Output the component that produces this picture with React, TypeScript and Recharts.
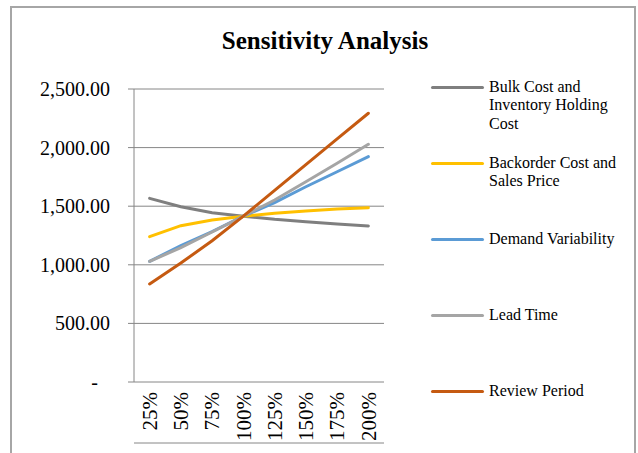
import { CartesianGrid, Line, LineChart, XAxis, YAxis } from 'recharts';

const categories = ['25%', '50%', '75%', '100%', '125%', '150%', '175%', '200%'];
const bulkCost = [1567, 1496, 1445, 1415, 1388, 1368, 1348, 1331];
const backorderCost = [1240, 1334, 1382, 1415, 1439, 1459, 1476, 1487];
const demandVariability = [1030, 1163, 1283, 1415, 1530, 1666, 1794, 1923];
const leadTime = [1030, 1146, 1280, 1415, 1553, 1709, 1866, 2028];
const reviewPeriod = [836, 1015, 1205, 1415, 1635, 1855, 2075, 2293];
const yTicks = [0, 500, 1000, 1500, 2000, 2500];

const SERIES = [
  { key: 'bulk', name: 'Bulk Cost and Inventory Holding Cost', color: '#7f7f7f', values: bulkCost },
  { key: 'backorder', name: 'Backorder Cost and Sales Price', color: '#ffc000', values: backorderCost },
  { key: 'demand', name: 'Demand Variability', color: '#5b9bd5', values: demandVariability },
  { key: 'lead', name: 'Lead Time', color: '#a5a5a5', values: leadTime },
  { key: 'review', name: 'Review Period', color: '#c55a11', values: reviewPeriod },
];

const data = categories.map((label, i) => {
  const row: Record<string, number | string> = { x: i + 0.5, label };
  SERIES.forEach((s) => {
    row[s.key] = s.values[i];
  });
  return row;
});

const FONT = '"Liberation Serif", "Times New Roman", serif';
const GRID = '#868686';

function YTick({ x, y, payload }: any) {
  const v = payload.value as number;
  const text =
    v === 0
      ? '-'
      : v.toLocaleString('en-US', { minimumFractionDigits: 2, maximumFractionDigits: 2 });
  return (
    <text
      x={v === 0 ? x - 12 : x}
      y={y}
      dy="0.35em"
      textAnchor="end"
      fontFamily={FONT}
      fontSize={20}
      fill="#000"
    >
      {text}
    </text>
  );
}

function XLabel({ x, y, payload }: any) {
  const idx = Math.round(payload.value - 0.5);
  return (
    <text
      x={x}
      y={y}
      dy="0.35em"
      textAnchor="end"
      transform={`rotate(-90, ${x}, ${y})`}
      fontFamily={FONT}
      fontSize={21}
      fill="#000"
    >
      {categories[idx]}
    </text>
  );
}

export default function App() {
  return (
    <div
      style={{
        position: 'absolute',
        left: 0,
        top: 0,
        width: 638,
        height: 453,
        overflow: 'hidden',
        background: '#fff',
        fontFamily: FONT,
      }}
    >
      <div
        style={{
          position: 'absolute',
          left: 10,
          top: 6,
          width: 622,
          height: 470,
          border: '2px solid #a6a6a6',
        }}
      />
      <div
        style={{
          position: 'absolute',
          left: 0,
          width: 650,
          top: 27,
          textAlign: 'center',
          fontWeight: 'bold',
          fontSize: 25,
        }}
      >
        Sensitivity Analysis
      </div>
      <div style={{ position: 'absolute', left: 0, top: 0 }}>
        <LineChart width={638} height={453} data={data} margin={{ top: 89, right: 254, bottom: 0, left: 0 }}>
          <CartesianGrid horizontal vertical={false} stroke={GRID} strokeWidth={1} />
          <XAxis
            xAxisId="ticks"
            dataKey="x"
            type="number"
            domain={[0, 8]}
            ticks={[0, 1, 2, 3, 4, 5, 6, 7, 8]}
            tick={false}
            tickSize={6}
            stroke={GRID}
            height={10}
          />
          <XAxis
            dataKey="x"
            type="number"
            domain={[0, 8]}
            ticks={data.map((d) => d.x as number)}
            tick={<XLabel />}
            tickLine={false}
            axisLine={false}
            tickMargin={4}
            height={61}
          />
          <YAxis
            domain={[0, 2500]}
            ticks={yTicks}
            tick={<YTick />}
            tickSize={6}
            tickMargin={18}
            stroke={GRID}
            width={134}
          />
          {SERIES.map((s) => (
            <Line
              key={s.key}
              dataKey={s.key}
              name={s.name}
              type="linear"
              stroke={s.color}
              strokeWidth={3}
              strokeLinecap="round"
              dot={false}
              isAnimationActive={false}
            />
          ))}
        </LineChart>
      </div>
      {SERIES.map((s, i) => (
        <div key={s.key} style={{ position: 'absolute', left: 431, top: 87 + 76 * i }}>
          <div
            style={{
              position: 'absolute',
              left: 0,
              top: -1.5,
              width: 53,
              height: 3,
              background: s.color,
              borderRadius: 2,
            }}
          />
          <div
            style={{
              position: 'absolute',
              left: 58,
              top: -9.5,
              width: 134,
              fontSize: 16,
              lineHeight: '18.5px',
              color: '#000',
            }}
          >
            {s.name}
          </div>
        </div>
      ))}
    </div>
  );
}
